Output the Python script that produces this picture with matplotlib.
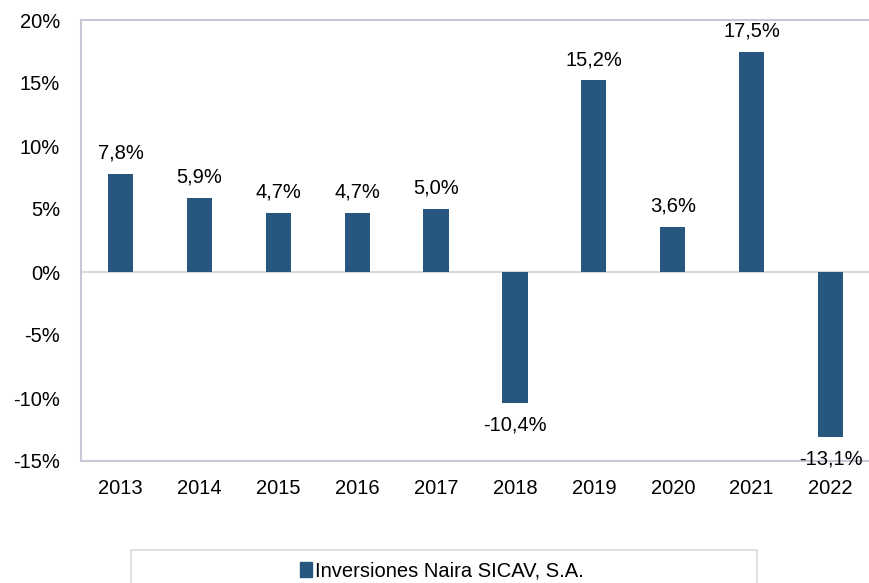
import matplotlib
matplotlib.use("Agg")
import matplotlib.pyplot as plt
from matplotlib.patches import Patch, Rectangle

years = ["2013", "2014", "2015", "2016", "2017", "2018", "2019", "2020", "2021", "2022"]
returns = [7.8, 5.9, 4.7, 4.7, 5.0, -10.4, 15.2, 3.6, 17.5, -13.1]
series_name = "Inversiones Naira SICAV, S.A."
yticks = [-15, -10, -5, 0, 5, 10, 15, 20]

plt.rcParams['font.family'] = ['Liberation Sans', 'DejaVu Sans']
FS = 14.5

fig = plt.figure(figsize=(8.70, 5.83), dpi=100)
W, H = 870, 583
left, right, top, bottom = 81, 870, 20, 461
ax = fig.add_axes([left / W, 1 - bottom / H, (right - left) / W, (bottom - top) / H])

bar_color = "#27577f"
x = list(range(len(years)))
ax.bar(x, returns, width=0.32, color=bar_color, zorder=3)

ax.set_xlim(-0.5, len(years) - 0.5)
ax.set_ylim(-15, 20)
ax.set_yticks(yticks)
ax.set_yticklabels([f"{v}%" for v in yticks], fontsize=FS)
ax.set_xticks(x)
ax.set_xticklabels(years, fontsize=FS)
ax.tick_params(axis='both', length=0)
ax.tick_params(axis='y', pad=15)
ax.tick_params(axis='x', pad=13)

ax.spines['right'].set_visible(False)
spine_color = "#c9c7d6"
for s in ['left', 'bottom', 'top']:
    ax.spines[s].set_color(spine_color)
    ax.spines[s].set_linewidth(1.5)
ax.axhline(0, color="#d9d9d9", linewidth=1.5, zorder=2)

for xi, v in zip(x, returns):
    lbl = f"{v:.1f}%".replace(".", ",")
    if v >= 0:
        ax.annotate(lbl, (xi, v), xytext=(0, 8), textcoords='offset points',
                    ha='center', va='bottom', fontsize=FS)
    else:
        ax.annotate(lbl, (xi, v), xytext=(0, -9), textcoords='offset points',
                    ha='center', va='top', fontsize=FS)

# legend frame (extends past the bottom edge)
fig.patches.append(Rectangle((131 / W, -0.05), (757 - 131) / W, (583 - 550) / H + 0.05,
                             transform=fig.transFigure, facecolor='white',
                             edgecolor="#d9d9d9", linewidth=1.2))
handle = Patch(facecolor=bar_color, edgecolor=bar_color)
leg = fig.legend([handle], [series_name], loc='center',
                 bbox_to_anchor=(442 / W, 1 - 571 / H), frameon=False, fontsize=FS,
                 handlelength=0.6, handleheight=0.75, handletextpad=0.15, borderaxespad=0)

fig.savefig("out.png", dpi=100)
